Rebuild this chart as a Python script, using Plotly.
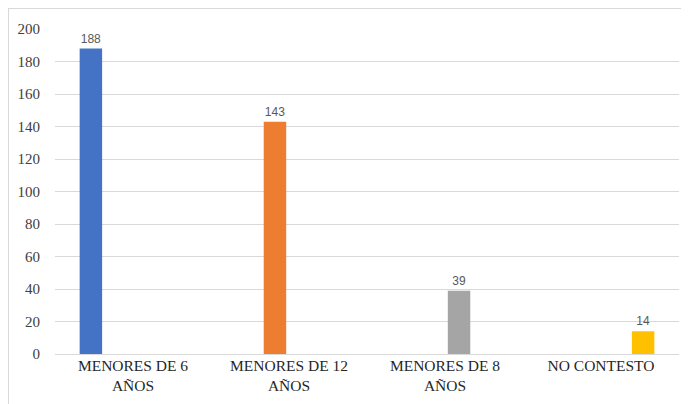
import plotly.graph_objects as go

categories = ["MENORES DE 6<br>AÑOS", "MENORES DE 12<br>AÑOS", "MENORES DE 8<br>AÑOS", "NO CONTESTO"]
values = [188, 143, 39, 14]
colors = ["#4472C4", "#ED7D31", "#A5A5A5", "#FFC000"]
y_ticks = [0, 20, 40, 60, 80, 100, 120, 140, 160, 180, 200]

SERIF = "Liberation Serif"

fig = go.Figure()
for i, (v, c) in enumerate(zip(values, colors)):
    ys = [v if j == i else None for j in range(len(categories))]
    fig.add_trace(go.Bar(
        x=categories, y=ys, marker=dict(color=c, line=dict(width=0)),
        text=[str(v) if j == i else "" for j in range(len(categories))],
        textposition="outside", cliponaxis=False,
        textfont=dict(family="Liberation Sans", size=12, color="#595959"),
        showlegend=False, hoverinfo="skip",
    ))

# page body has an 8px margin, so the figure is sized/offset to compensate
W, H = 681, 396
L, T, R, B = 47, 21, 10, 50
pw = W - L - R
ph = H - T - B

fig.update_layout(
    width=W, height=H,
    margin=dict(l=L, r=R, t=T, b=B, autoexpand=False),
    paper_bgcolor="white", plot_bgcolor="white",
    barmode="group", bargap=0.28, bargroupgap=0.2,
    font=dict(family=SERIF, size=15, color="#404040"),
    xaxis=dict(showgrid=False, showline=False, ticks="",
               tickfont=dict(family=SERIF, size=15.5, color="#262626")),
    yaxis=dict(range=[0, 200], tickvals=y_ticks, showgrid=True, gridcolor="#D9D9D9", gridwidth=1,
               zeroline=True, zerolinecolor="#D9D9D9", zerolinewidth=1, showline=False,
               ticks="", ticklabelstandoff=14,
               tickfont=dict(family=SERIF, size=15, color="#404040")),
    shapes=[
        dict(type="line", xref="paper", yref="paper", x0=(-L + 0.5) / pw, x1=(-L + 0.5) / pw,
             y0=(ph + T - 0.5) / ph, y1=-B / ph, line=dict(color="#D9D9D9", width=1)),
        dict(type="line", xref="paper", yref="paper", x0=-L / pw, x1=(pw + R) / pw,
             y0=(ph + T - 0.5) / ph, y1=(ph + T - 0.5) / ph, line=dict(color="#D9D9D9", width=1)),
    ],
)

fig.write_html("out.html")
